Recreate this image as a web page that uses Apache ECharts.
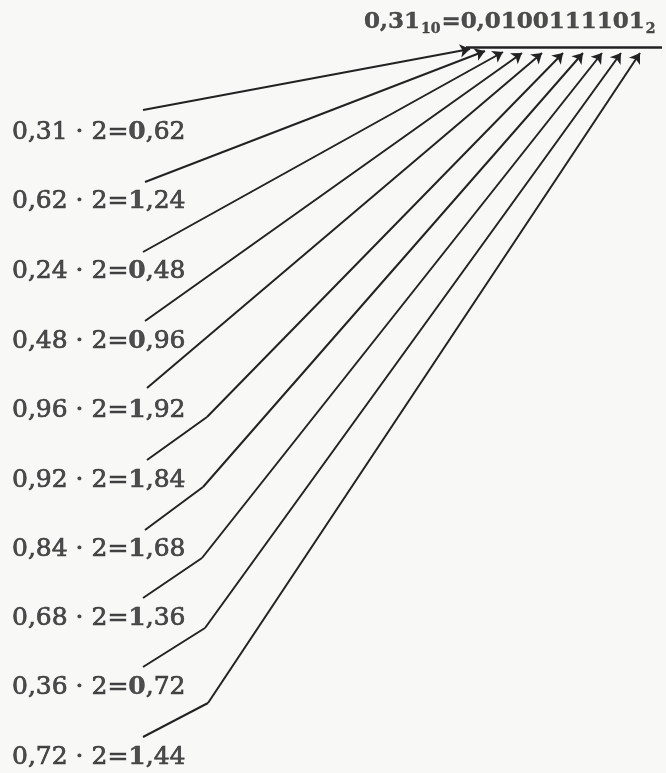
<!DOCTYPE html>
<html>
<head>
<meta charset="utf-8">
<script src="https://cdn.jsdelivr.net/npm/echarts@6/dist/echarts.min.js"></script>
<style>
  html, body { margin: 0; padding: 0; background: #f8f8f7; }
  #chart { width: 666px; height: 773px; }
</style>
</head>
<body>
<div id="chart"></div>
<script>
// ---- data ----
const multiplicands = ['0,31', '0,62', '0,24', '0,48', '0,96', '0,92', '0,84', '0,68', '0,36', '0,72'];
const multiplier = '2';
const products = ['0,62', '1,24', '0,48', '0,96', '1,92', '1,84', '1,68', '1,36', '0,72', '1,44'];
const sourceNumber = '0,31';
const sourceBase = '10';
const targetBase = '2';
const binaryDigits = products.map(p => p.split(',')[0]);   // 0100111101

// ---- layout (axis units = pixels of the figure) ----
const rowY = [132, 201, 271, 341, 410, 480, 549, 618, 687, 757];
const labelX = 12;
const startPts = [[143,110],[145,182],[143,252],[145,321],[147,388],[147,460],[145,530],[143,598],[143,667],[143,737]];
const bendPts  = [null, null, null, null, null, [207,417], [203,487], [202,558], [205,628], [208,703]];
const tipX = [470, 485, 503, 522, 542, 563, 583, 602, 621, 640];
const tipY = [49, 51, 52, 53, 53, 53, 53, 53, 53, 53];
const underline = [[466, 47], [662, 47]];
const titlePos = [364, 22];

const ink = '#222222';
const serif = 'DejaVu Serif';

const tails = [];
const shafts = [];
startPts.forEach((s, i) => {
  const b = bendPts[i];
  const t = [tipX[i], tipY[i]];
  if (b) {
    tails.push({ coords: [s, b] });
    shafts.push({ coords: [b, t] });
  } else {
    shafts.push({ coords: [s, t] });
  }
});

const labelData = multiplicands.map((m, i) => ({
  value: [labelX, rowY[i]],
  name: '{n|' + m + ' · ' + multiplier + '=}{b|' + products[i].split(',')[0] + '}{n|,' + products[i].split(',')[1] + '}'
}));

const titleText = '{t|' + sourceNumber + '}{s|' + sourceBase + '}{t|=0,' + binaryDigits.join('') + '}{s|' + targetBase + '}';

const txt = (size, bold, extra) => Object.assign({
  fontFamily: serif, fontSize: size, fontWeight: bold ? 'bold' : 'normal',
  color: ink, textBorderColor: ink, textBorderWidth: bold ? 0.4 : 0.7
}, extra || {});

const chart = echarts.init(document.getElementById('chart'), null, { renderer: 'canvas' });
chart.setOption({
  backgroundColor: '#f8f8f7',
  animation: false,
  grid: { left: 0, right: 0, top: 0, bottom: 0 },
  xAxis: { type: 'value', min: 0, max: 666, show: false },
  yAxis: { type: 'value', min: 0, max: 773, inverse: true, show: false },
  series: [
    {
      type: 'lines',
      coordinateSystem: 'cartesian2d',
      data: tails,
      symbol: ['none', 'none'],
      lineStyle: { color: ink, width: 2, opacity: 1 }
    },
    {
      type: 'lines',
      coordinateSystem: 'cartesian2d',
      data: shafts,
      symbol: ['none', 'arrow'],
      symbolSize: 10,
      lineStyle: { color: ink, width: 2, opacity: 1 },
      itemStyle: { color: ink }
    },
    {
      type: 'lines',
      coordinateSystem: 'cartesian2d',
      data: [{ coords: underline }],
      symbol: ['none', 'none'],
      lineStyle: { color: ink, width: 2.5, opacity: 1 }
    },
    {
      type: 'scatter',
      data: labelData,
      symbolSize: 0,
      label: {
        show: true,
        position: 'right',
        distance: 0,
        color: ink,
        formatter: p => p.name,
        rich: {
          n: txt(25, false),
          b: txt(25, true)
        }
      }
    },
    {
      type: 'scatter',
      data: [{ value: titlePos, name: titleText }],
      symbolSize: 0,
      label: {
        show: true,
        position: 'right',
        distance: 0,
        color: ink,
        formatter: p => p.name,
        rich: {
          t: txt(23, true),
          s: txt(14, true, { padding: [15, 1, 0, 1] })
        }
      }
    }
  ]
});
</script>
</body>
</html>
